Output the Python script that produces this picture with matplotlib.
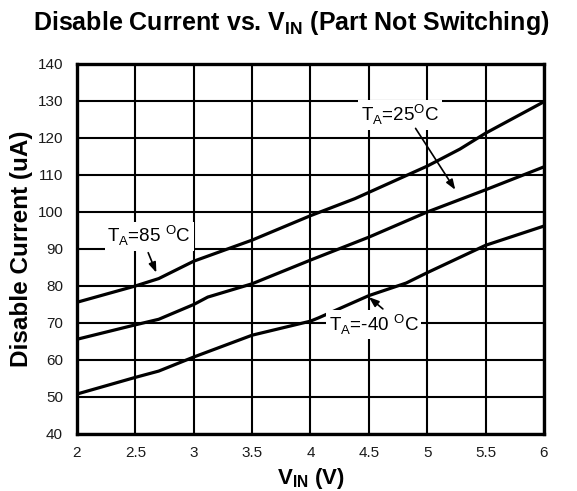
import matplotlib
matplotlib.use("Agg")
import matplotlib.pyplot as plt

plt.rcParams['font.family'] = ['Liberation Sans', 'DejaVu Sans']
plt.rcParams['mathtext.fontset'] = 'custom'
plt.rcParams['mathtext.rm'] = 'Liberation Sans'
plt.rcParams['mathtext.bf'] = 'Liberation Sans:bold'

# Disable current vs input voltage at three ambient temperatures
vin_85 = [2.0, 2.5, 2.7, 3.0, 3.5, 4.0, 4.38, 4.5, 5.0, 5.28, 5.5, 6.0]
i_85 = [75.6, 80.0, 82.0, 86.7, 92.4, 99.0, 103.6, 105.3, 112.4, 117.0, 121.3, 129.8]

vin_25 = [2.0, 2.5, 2.7, 3.0, 3.12, 3.5, 4.0, 4.5, 5.0, 5.5, 6.0]
i_25 = [65.6, 69.5, 71.0, 75.0, 77.0, 80.6, 87.0, 93.2, 100.0, 106.0, 112.2]

vin_m40 = [2.0, 2.5, 2.7, 3.0, 3.5, 4.0, 4.07, 4.5, 4.82, 5.0, 5.5, 6.0]
i_m40 = [50.8, 55.3, 57.0, 60.8, 66.7, 70.5, 71.4, 77.4, 80.8, 83.6, 91.0, 96.2]

x_ticks = [2, 2.5, 3, 3.5, 4, 4.5, 5, 5.5, 6]
x_tick_labels = ['2', '2.5', '3', '3.5', '4', '4.5', '5', '5.5', '6']
y_ticks = [40, 50, 60, 70, 80, 90, 100, 110, 120, 130, 140]

fig = plt.figure(figsize=(5.77, 4.91), dpi=100)
ax = fig.add_axes([0.1334, 0.1161, 0.8094, 0.7536])

ax.set_xlim(2, 6)
ax.set_ylim(40, 140)
ax.set_xticks(x_ticks)
ax.set_xticklabels(x_tick_labels)
ax.set_yticks(y_ticks)
ax.tick_params(length=0, labelsize=11, colors='#1a1a1a')
ax.tick_params(axis='y', pad=10)
ax.tick_params(axis='x', pad=9)
ax.grid(True, color='black', linewidth=1.5)
ax.set_axisbelow(True)
for sp in ax.spines.values():
    sp.set_linewidth(2.4)
    sp.set_color('black')

for xs, ys in [(vin_85, i_85), (vin_25, i_25), (vin_m40, i_m40)]:
    ax.plot(xs, ys, color='black', linewidth=2.3, solid_capstyle='butt', zorder=3)

box = dict(facecolor='white', edgecolor='none', pad=2.0)
arrow = dict(arrowstyle='-|>,head_length=0.6,head_width=0.22', color='black',
             linewidth=1.2, shrinkA=0, shrinkB=0)

ax.text(2.62, 93.4, r'T$_\mathregular{A}$=85 $^\mathregular{O}$C', fontsize=13.5,
        ha='center', va='center', bbox=box, zorder=4)
ax.annotate('', xy=(2.68, 83.6), xytext=(2.61, 89.0), arrowprops=arrow, zorder=5)

ax.text(4.77, 126.2, r'T$_\mathregular{A}$=25$^\mathregular{O}$C', fontsize=13.5,
        ha='center', va='center', bbox=box, zorder=4)
ax.annotate('', xy=(5.24, 106.0), xytext=(4.9, 122.6), arrowprops=arrow, zorder=5)

ax.text(4.54, 69.6, r'T$_\mathregular{A}$=-40 $^\mathregular{O}$C', fontsize=13.5,
        ha='center', va='center', bbox=box, zorder=4)
ax.annotate('', xy=(4.5, 77.0), xytext=(4.62, 73.8), arrowprops=arrow, zorder=5)

ax.set_ylabel('Disable Current (uA)', fontsize=17.5, fontweight='bold', labelpad=3)
ax.set_xlabel(r'V$_\mathbf{IN}$ (V)', fontsize=16, fontweight='bold', labelpad=4)

fig.text(0.505, 0.953, r'Disable Current vs. V$_\mathbf{IN}$ (Part Not Switching)',
         fontsize=18, fontweight='bold', ha='center', va='center')

fig.savefig('out.png', dpi=100)
